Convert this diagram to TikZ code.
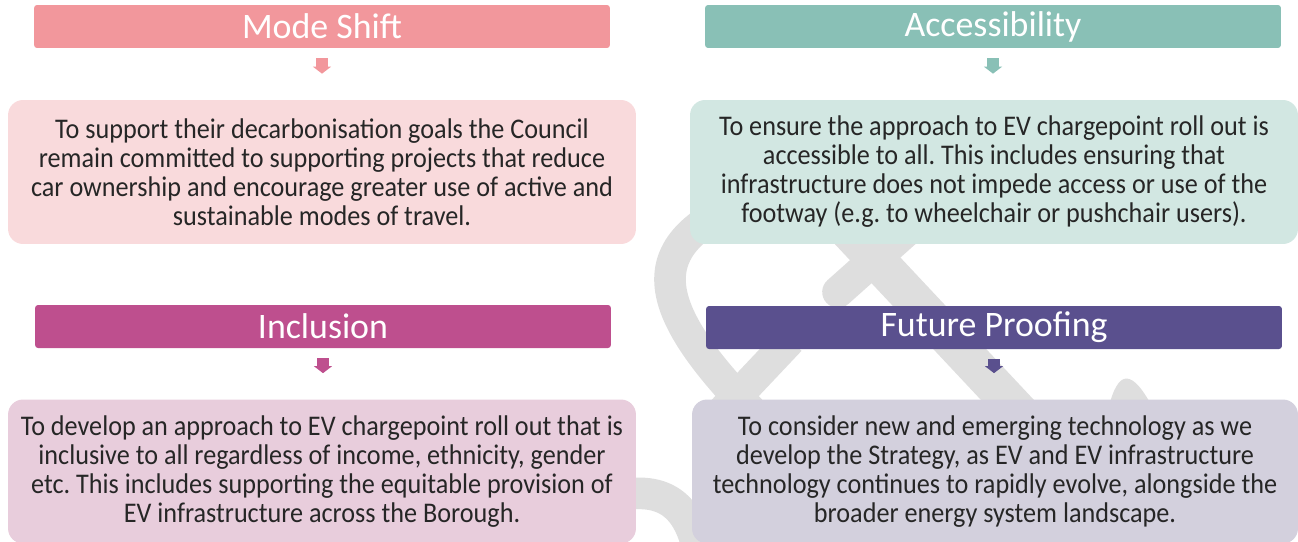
\documentclass[tikz,border=0pt]{standalone}
\usepackage{fontspec}
\setmainfont{Carlito}
\newfontfamily\bodyfont[FakeStretch=0.92]{Carlito}
\usetikzlibrary{arrows.meta}
\frenchspacing

\definecolor{modedark}{HTML}{F2979C}
\definecolor{modelight}{HTML}{F9DADC}
\definecolor{accessdark}{HTML}{89C0B6}
\definecolor{accesslight}{HTML}{D2E7E2}
\definecolor{incldark}{HTML}{BE4F8E}
\definecolor{incllight}{HTML}{E8CDDC}
\definecolor{futuredark}{HTML}{5A508E}
\definecolor{futurelight}{HTML}{D3D0DD}
\definecolor{wmgray}{HTML}{DEDEDE}
\definecolor{textgray}{HTML}{262626}

\tikzset{title_style/.style={rectangle, rounded corners=1.7pt, fill=#1, text=white, minimum width=11.52cm, minimum height=0.86cm, inner sep=0pt, font=\fontsize{20.4}{24}\selectfont}}
\tikzset{body_style/.style={rectangle, rounded corners=0.3cm, fill=#1, text=textgray, minimum height=2.88cm, inner sep=0pt, align=center, font=\bodyfont\fontsize{16.2}{16.5}\selectfont}}
\tikzset{arrow_style/.style={draw=#1, line width=6.8pt, -{Triangle[width=10.2pt, length=4pt]}, shorten <=5.7pt, shorten >=14.8pt}}
\tikzset{wm_style/.style={draw=wmgray, line width=18pt}}

\begin{document}
\begin{tikzpicture}[x=0.02cm, y=-0.02cm]
    \useasboundingbox (0,0) rectangle (1298,541);

    % plug watermark behind the boxes
    \draw[wm_style] (760,195) .. controls (640,240) and (640,300) .. (760,420);
    \draw[wm_style] (722,412) -- (790,340);
    \draw[wm_style, line width=22pt] (820,200) -- (1045,440);
    \draw[wm_style, line cap=round] (930,210) -- (838,292);
    \fill[wmgray] (1108,410) .. controls (1118,368) and (1132,368) .. (1154,410) -- cycle;
    \draw[wm_style] (600,500) .. controls (660,482) and (690,500) .. (700,560);

    \node[title_style=modedark] (mode_title) at (322,26.5) {Mode Shift};
    \node[title_style=accessdark] (access_title) at (993,26.5) {Accessibility};
    \node[title_style=incldark] (incl_title) at (323,326.5) {Inclusion};
    \node[title_style=futuredark] (future_title) at (994,327.5) {Future Proofing};

    \node[body_style=modelight, minimum width=12.56cm] (mode_body) at (322,172)
        {To support their decarbonisation goals the Council\\
         remain committed to supporting projects that reduce\\
         car ownership and encourage greater use of active and\\
         sustainable modes of travel.};
    \node[body_style=accesslight, minimum width=12.16cm] (access_body) at (994,172)
        {To ensure the approach to EV chargepoint roll out is\\
         accessible to all. This includes ensuring that\\
         infrastructure does not impede access or use of the\\
         footway (e.g. to wheelchair or pushchair users).};
    \node[body_style=incllight, minimum width=12.56cm] (incl_body) at (322,471.5)
        {To develop an approach to EV chargepoint roll out that is\\
         inclusive to all regardless of income, ethnicity, gender\\
         etc. This includes supporting the equitable provision of\\
         EV infrastructure across the Borough.};
    \node[body_style=futurelight, minimum width=12.12cm] (future_body) at (995,471.5)
        {To consider new and emerging technology as we\\
         develop the Strategy, as EV and EV infrastructure\\
         technology continues to rapidly evolve, alongside the\\
         broader energy system landscape.};

    \draw[arrow_style=modedark] (mode_title.south) -- (mode_title.south |- mode_body.north);
    \draw[arrow_style=accessdark] (access_title.south) -- (access_title.south |- access_body.north);
    \draw[arrow_style=incldark] (incl_title.south) -- (incl_title.south |- incl_body.north);
    \draw[arrow_style=futuredark] (future_title.south) -- (future_title.south |- future_body.north);

\end{tikzpicture}
\end{document}
